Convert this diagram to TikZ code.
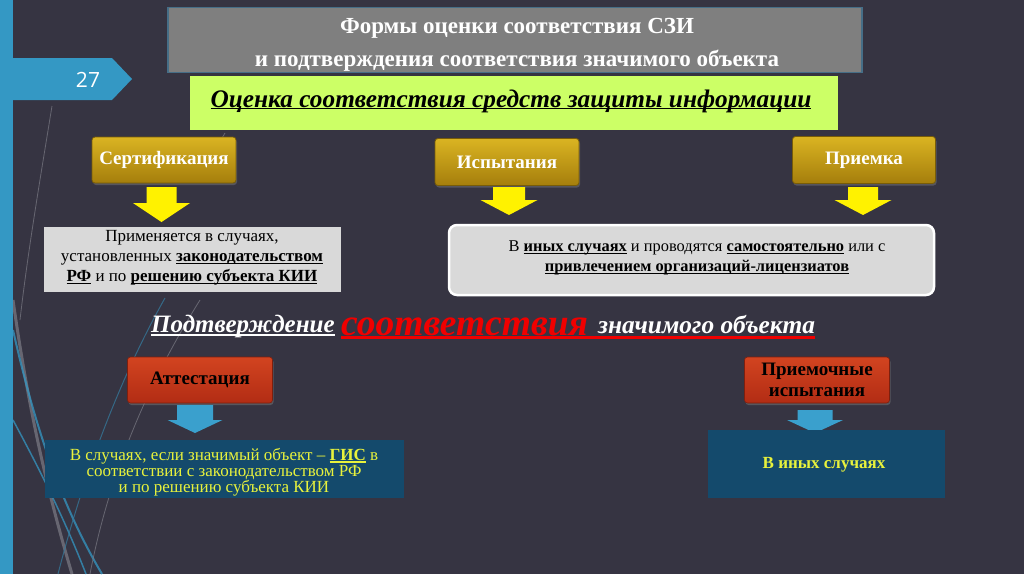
\documentclass[tikz,border=0pt]{standalone}
\usepackage{fontspec}
\setmainfont{Liberation Serif}
\newfontfamily\tabfont{Open Sans}
\usetikzlibrary{shadows}
\definecolor{bg}{RGB}{54,52,66}
\definecolor{tabblue}{RGB}{52,152,196}
\definecolor{titlegray}{RGB}{127,127,127}
\definecolor{titleedge}{RGB}{70,110,135}
\definecolor{lime}{RGB}{204,255,102}
\definecolor{goldtop}{RGB}{218,180,34}
\definecolor{goldbot}{RGB}{165,126,12}
\definecolor{goldedge}{RGB}{120,92,8}
\definecolor{boxgray}{RGB}{217,217,217}
\definecolor{redtop}{RGB}{210,68,32}
\definecolor{redbot}{RGB}{178,44,20}
\definecolor{navy}{RGB}{20,74,108}
\definecolor{arrowblue}{RGB}{58,160,205}
\definecolor{yelltext}{RGB}{232,242,60}
\definecolor{subred}{RGB}{240,0,0}
\definecolor{decogray}{RGB}{120,120,130}
\newcommand\myul[2][0.9pt]{\setbox0\hbox{#2}\rlap{\rule[-2.2pt]{\wd0}{#1}}\box0}
\newcommand\blockarrow[7]{%
  \fill[#1] (#2-#6,#3) -- (#2+#6,#3) -- (#2+#6,#4) -- (#2+#7,#4) -- (#2,#5)
    -- (#2-#7,#4) -- (#2-#6,#4) -- cycle;}
\begin{document}
\begin{tikzpicture}[x=1pt,y=-1pt,
  goldbox/.style={rounded corners=3pt, top color=goldtop, bottom color=goldbot,
    draw=goldedge, line width=0.8pt, text=white,
    font=\fontsize{19}{22}\selectfont\bfseries, inner sep=0pt,
    drop shadow={opacity=0.45, shadow xshift=1pt, shadow yshift=-2pt}},
  redbox/.style={rounded corners=3pt, top color=redtop, bottom color=redbot,
    draw=redbot!70!black, line width=0.6pt, text=black, align=center,
    font=\fontsize{19}{21}\selectfont\bfseries, inner sep=0pt,
    drop shadow={opacity=0.45, shadow xshift=1pt, shadow yshift=-2pt}},
  graybox/.style={fill=boxgray, inner sep=0pt},
  navybox/.style={fill=navy, inner sep=0pt},
  plaintext/.style={inner sep=0pt, align=center},
  deco/.style={line width=#1, opacity=0.75},
]
\useasboundingbox (0,0) rectangle (1024,574);
\fill[bg] (0,0) rectangle (1024,574);
% decorative curves
\draw[deco=0.8pt, decogray] (52,106) .. controls (40,180) and (28,250) .. (20,320);
\draw[deco=3pt, decogray] (13,300) .. controls (30,420) and (50,500) .. (72,574);
\draw[deco=2pt, tabblue] (13,330) .. controls (40,450) and (70,520) .. (102,574);
\draw[deco=1.5pt, tabblue] (13,420) .. controls (40,470) and (65,520) .. (86,574);
\draw[deco=1pt, tabblue!70!bg] (58,574) .. controls (90,450) and (130,360) .. (165,298);
\draw[deco=0.8pt, decogray] (90,574) .. controls (110,470) and (150,380) .. (200,300);
\draw[deco=0.8pt, decogray] (225,133) -- (215,150);
% left strip and page tab
\fill[tabblue] (0,0) rectangle (13,574);
\fill[tabblue] (13,58) -- (112,58) -- (132,79) -- (112,100) -- (13,100) -- cycle;
\node[plaintext, text=white, font=\tabfont\fontsize{21}{24}\selectfont] (num) at (88,80) {27};
% title
\node[fill=titlegray, draw=titleedge, line width=1.2pt, minimum width=694pt, minimum height=65pt,
  inner sep=0pt] (title) at (515,40) {};
\node[plaintext, text=white, font=\fontsize{23}{33}\selectfont\bfseries]
  (titletext) at (517,45) {Формы оценки соответствия СЗИ\\и подтверждения соответствия значимого объекта};
% green band
\node[fill=lime, minimum width=648pt, minimum height=54pt, inner sep=0pt] (green) at (514,103) {};
\node[plaintext, font=\fontsize{25.3}{28}\selectfont\bfseries\itshape] (greentext) at (511,101)
  {\myul[1.6pt]{Оценка соответствия средств защиты информации}};
% gold boxes
\node[goldbox, minimum width=144pt, minimum height=46pt] (cert) at (164,160) {Сертификация};
\node[goldbox, minimum width=144pt, minimum height=47pt] (isp) at (507,162) {Испытания};
\node[goldbox, minimum width=143pt, minimum height=47pt] (priem) at (864,160) {Приемка};
% yellow arrows
\blockarrow{yellow}{161.5}{187}{203}{222}{15}{28.5}
\blockarrow{yellow}{509}{187}{200}{215}{16}{28.5}
\blockarrow{yellow}{863}{187}{200}{215}{15}{28.5}
% gray boxes
\node[graybox, minimum width=297pt, minimum height=65pt] (gray1) at (192,259.5) {};
\node[plaintext, font=\fontsize{17}{20}\selectfont] (gray1text) at (192,258)
  {Применяется в случаях,\\
   установленных \textbf{\myul{законодательством}}\\
   \textbf{\myul{РФ}} и по \textbf{\myul{решению субъекта КИИ}}};
\node[graybox, draw=white, line width=2.5pt, rounded corners=8pt,
  minimum width=485pt, minimum height=70pt] (gray2) at (691.5,260) {};
\node[plaintext, font=\fontsize{16.4}{19.5}\selectfont] (gray2text) at (697,258)
  {В \textbf{\myul{иных случаях}} и проводятся \textbf{\myul{самостоятельно}} или с\\
   \textbf{\myul{привлечением организаций-лицензиатов}}};
% subtitle
\node[inner sep=0pt, anchor=base west, text=white, font=\fontsize{25}{30}\selectfont\bfseries\itshape]
  (sub1) at (151,332) {Подтверждение};
\node[inner sep=0pt, anchor=base west, text=subred, font=\fontsize{37.5}{40}\selectfont\bfseries\itshape]
  (sub2) at (341,335) {соответствия};
\node[inner sep=0pt, anchor=base west, text=white, font=\fontsize{25.4}{30}\selectfont\bfseries\itshape]
  (sub3) at (598,333) {значимого объекта};
\draw[white, line width=2pt] ([yshift=-2.5pt]sub1.base west) -- ([yshift=-2.5pt]sub1.base east);
\draw[subred, line width=3.5pt] ([yshift=-2.5pt]sub2.base west) -- ([yshift=-4.5pt]sub3.base east);
% lower boxes
\node[redbox, minimum width=145pt, minimum height=46pt] (att) at (200,380) {Аттестация};
\node[redbox, minimum width=145pt, minimum height=46pt] (pis) at (817,380) {Приемочные\\испытания};
\blockarrow{arrowblue}{195}{405}{420}{433}{18}{27.5}
\blockarrow{arrowblue}{815}{410}{420}{433}{17.5}{28}
\node[navybox, minimum width=359pt, minimum height=58pt] (navy1) at (224,469) {};
\node[plaintext, text=yelltext, font=\fontsize{17}{15.8}\selectfont] (navy1text) at (224,472)
  {В случаях, если значимый объект – \textbf{\myul[1.8pt]{ГИС}} в\\
   соответствии с законодательством РФ\\
   и по решению субъекта КИИ};
\node[navybox, minimum width=237pt, minimum height=68pt] (navy2) at (826,464) {};
\node[plaintext, text=yelltext, font=\fontsize{17}{19}\selectfont\bfseries] (navy2text) at (824,465)
  {В иных случаях};
\end{tikzpicture}
\end{document}
